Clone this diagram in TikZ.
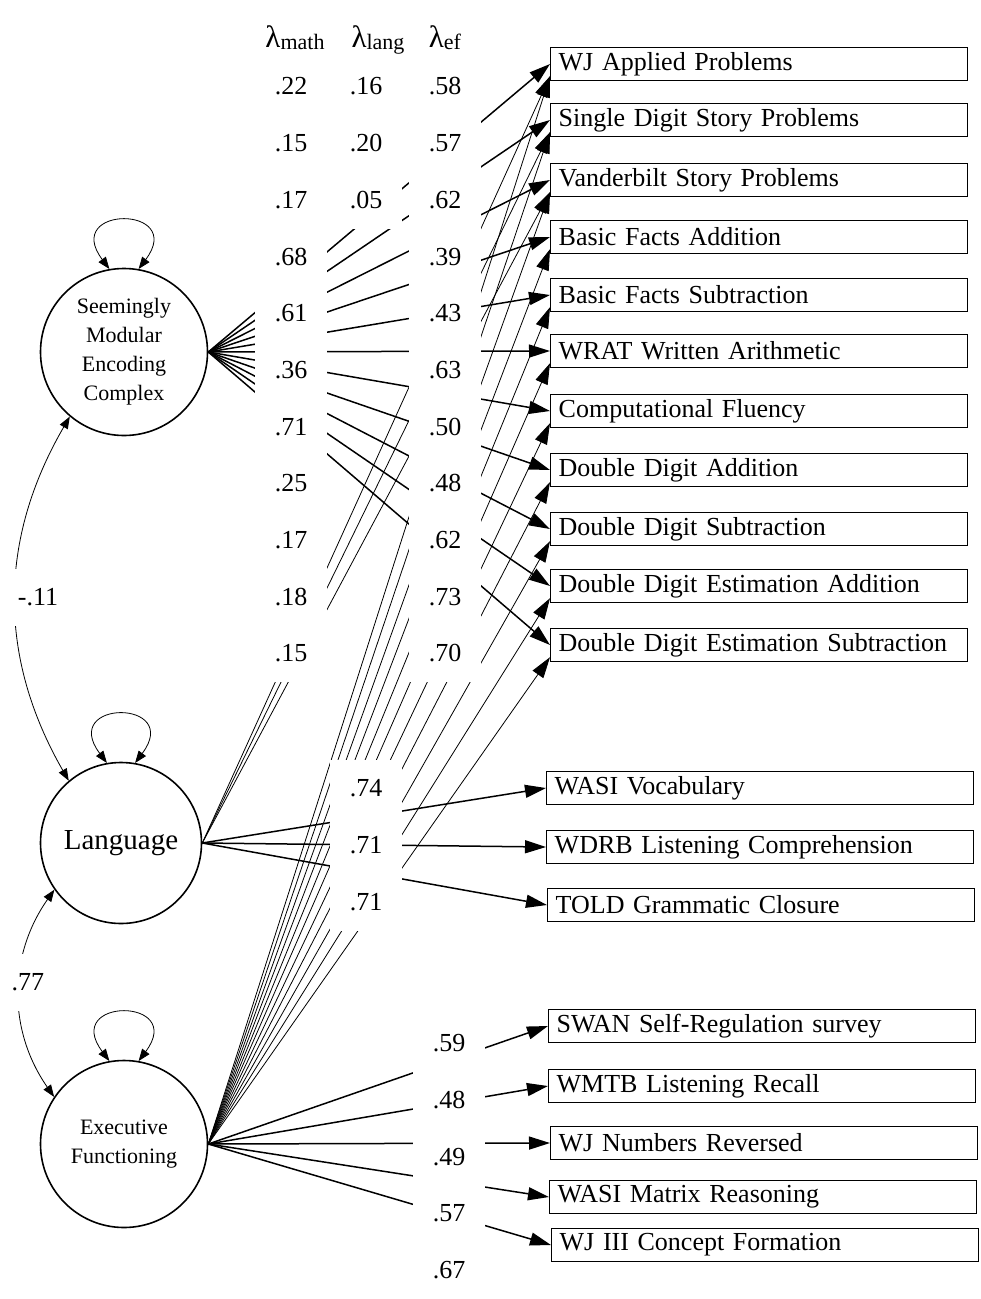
\documentclass[tikz,border=0pt]{standalone}
\usepackage{fontspec}
\setmainfont{Liberation Serif}
\usetikzlibrary{arrows.meta}
\newcommand{\lamsub}[1]{{\fontsize{31}{32}\selectfont λ}\raisebox{-2pt}{\fontsize{22}{24}\selectfont #1}}

\begin{document}
\begin{tikzpicture}[x=1pt, y=-1pt]
\useasboundingbox (0,0) rectangle (981,1299);

\tikzset{LatentStyle/.style = {
 shape = circle,
 draw,
 line width = 1.6pt,
 inner sep = 0pt,
 align = center,
 font = \fontsize{22}{29}\selectfont,
 minimum size = 167pt} }

\node[LatentStyle] (SMEC) at (124, 352) {Seemingly\\Modular\\Encoding\\Complex};
\node[LatentStyle, minimum size = 161pt, font = \fontsize{29}{34}\selectfont] (LANG) at (121, 843) {Language};
\node[LatentStyle] (EXEC) at (124, 1144) {Executive\\Functioning};


\tikzset{BoxStyle/.style = {
 draw,
 line width = 1.4pt,
 anchor = west,
 align = left,
 minimum height = 33pt,
 inner xsep = 8pt,
 inner ysep = 0pt,
 text width = 401pt,
 font = \fontsize{26}{30}\selectfont} }
\tikzset{WideBoxStyle/.style = {BoxStyle, text width = 411pt} }

\node[BoxStyle] (M1) at (550, 64) {WJ Applied Problems};
\node[BoxStyle] (M2) at (550, 120) {Single Digit Story Problems};
\node[BoxStyle] (M3) at (550, 180) {Vanderbilt Story Problems};
\node[BoxStyle] (M4) at (550, 237) {Basic Facts Addition};
\node[BoxStyle] (M5) at (550, 295) {Basic Facts Subtraction};
\node[BoxStyle] (M6) at (550, 351) {WRAT Written Arithmetic};
\node[BoxStyle] (M7) at (550, 411) {Computational Fluency};
\node[BoxStyle] (M8) at (550, 470) {Double Digit Addition};
\node[BoxStyle] (M9) at (550, 529) {Double Digit Subtraction};
\node[BoxStyle] (M10) at (550, 586) {Double Digit Estimation Addition};
\node[BoxStyle] (M11) at (550, 645) {Double Digit Estimation Subtraction};
\node[WideBoxStyle] (L1) at (546, 788) {WASI Vocabulary};
\node[WideBoxStyle] (L2) at (546, 847) {WDRB Listening Comprehension};
\node[WideBoxStyle] (L3) at (547, 905) {TOLD Grammatic Closure};
\node[WideBoxStyle] (E1) at (548, 1026) {SWAN Self-Regulation survey};
\node[WideBoxStyle] (E2) at (548, 1086) {WMTB Listening Recall};
\node[WideBoxStyle] (E3) at (550, 1143) {WJ Numbers Reversed};
\node[WideBoxStyle] (E4) at (549, 1197) {WASI Matrix Reasoning};
\node[WideBoxStyle] (E5) at (551, 1245) {WJ III Concept Formation};


\tikzset{EdgeStyle/.style = {line width = 1.5pt, -{Triangle[length=21pt, width=13pt]}} }
\tikzset{CrossStyle/.style = {line width = 0.8pt, -{Triangle[length=21pt, width=13pt]}} }

\draw[EdgeStyle] (SMEC.east) -- (M1.west);
\draw[EdgeStyle] (SMEC.east) -- (M2.west);
\draw[EdgeStyle] (SMEC.east) -- (M3.west);
\draw[EdgeStyle] (SMEC.east) -- (M4.west);
\draw[EdgeStyle] (SMEC.east) -- (M5.west);
\draw[EdgeStyle] (SMEC.east) -- (M6.west);
\draw[EdgeStyle] (SMEC.east) -- (M7.west);
\draw[EdgeStyle] (SMEC.east) -- (M8.west);
\draw[EdgeStyle] (SMEC.east) -- (M9.west);
\draw[EdgeStyle] (SMEC.east) -- (M10.west);
\draw[EdgeStyle] (SMEC.east) -- (M11.west);
\draw[CrossStyle] (LANG.east) -- ([yshift=5pt]M1.south west);
\draw[CrossStyle] (LANG.east) -- ([yshift=5pt]M2.south west);
\draw[CrossStyle] (LANG.east) -- ([yshift=5pt]M3.south west);
\draw[EdgeStyle] (LANG.east) -- (L1.west);
\draw[EdgeStyle] (LANG.east) -- (L2.west);
\draw[EdgeStyle] (LANG.east) -- (L3.west);
\draw[CrossStyle] (EXEC.east) -- ([yshift=5pt]M1.south west);
\draw[CrossStyle] (EXEC.east) -- ([yshift=5pt]M2.south west);
\draw[CrossStyle] (EXEC.east) -- ([yshift=5pt]M3.south west);
\draw[CrossStyle] (EXEC.east) -- ([yshift=5pt]M4.south west);
\draw[CrossStyle] (EXEC.east) -- ([yshift=5pt]M5.south west);
\draw[CrossStyle] (EXEC.east) -- ([yshift=5pt]M6.south west);
\draw[CrossStyle] (EXEC.east) -- ([yshift=5pt]M7.south west);
\draw[CrossStyle] (EXEC.east) -- ([yshift=5pt]M8.south west);
\draw[CrossStyle] (EXEC.east) -- ([yshift=5pt]M9.south west);
\draw[CrossStyle] (EXEC.east) -- ([yshift=5pt]M10.south west);
\draw[CrossStyle] (EXEC.east) -- ([yshift=5pt]M11.south west);
\draw[EdgeStyle] (EXEC.east) -- (E1.west);
\draw[EdgeStyle] (EXEC.east) -- (E2.west);
\draw[EdgeStyle] (EXEC.east) -- (E3.west);
\draw[EdgeStyle] (EXEC.east) -- (E4.west);
\draw[EdgeStyle] (EXEC.east) -- (E5.west);


\tikzset{LoopStyle/.style = {line width = 0.8pt, {Triangle[length=12pt, width=9pt]}-{Triangle[length=12pt, width=9pt]}} }

\draw[LoopStyle] (SMEC.100) .. controls +(-48,-64) and +(48,-64) .. (SMEC.80);
\draw[LoopStyle] (LANG.100) .. controls +(-48,-64) and +(48,-64) .. (LANG.80);
\draw[LoopStyle] (EXEC.100) .. controls +(-48,-64) and +(48,-64) .. (EXEC.80);
\draw[LoopStyle] (SMEC.230) to[bend right=30] (LANG.130);
\draw[LoopStyle] (LANG.215) to[bend right=35] (EXEC.146);


\tikzset{LabelStyle/.style = {
 fill = white,
 minimum width = 72pt,
 minimum height = 57pt,
 inner sep = 0pt,
 font = \fontsize{26}{30}\selectfont} }
\tikzset{CorrLabelStyle/.style = {LabelStyle, minimum width = 0pt, inner xsep = 6pt} }

\node[CorrLabelStyle] (R1) at (38, 597) {-.11};
\node[CorrLabelStyle] (R2) at (28, 982) {.77};

\node[anchor=base] (HM) at (295, 47) {\lamsub{math}};
\node[anchor=base] (HL) at (378, 47) {\lamsub{lang}};
\node[anchor=base] (HE) at (445, 47) {\lamsub{ef}};

\node[LabelStyle] (LM1) at (291, 86) {.22};
\node[LabelStyle] (LM2) at (291, 143) {.15};
\node[LabelStyle] (LM3) at (291, 200) {.17};
\node[LabelStyle] (LM4) at (291, 257) {.68};
\node[LabelStyle] (LM5) at (291, 313) {.61};
\node[LabelStyle] (LM6) at (291, 370) {.36};
\node[LabelStyle] (LM7) at (291, 427) {.71};
\node[LabelStyle] (LM8) at (291, 483) {.25};
\node[LabelStyle] (LM9) at (291, 540) {.17};
\node[LabelStyle] (LM10) at (291, 597) {.18};
\node[LabelStyle] (LM11) at (291, 653) {.15};

\node[LabelStyle] (LL1) at (366, 86) {.16};
\node[LabelStyle] (LL2) at (366, 143) {.20};
\node[LabelStyle] (LL3) at (366, 200) {.05};
\node[LabelStyle] (LL4) at (366, 788) {.74};
\node[LabelStyle] (LL5) at (366, 845) {.71};
\node[LabelStyle] (LL6) at (366, 902) {.71};

\node[LabelStyle] (LE1) at (445, 86) {.58};
\node[LabelStyle] (LE2) at (445, 143) {.57};
\node[LabelStyle] (LE3) at (445, 200) {.62};
\node[LabelStyle] (LE4) at (445, 257) {.39};
\node[LabelStyle] (LE5) at (445, 313) {.43};
\node[LabelStyle] (LE6) at (445, 370) {.63};
\node[LabelStyle] (LE7) at (445, 427) {.50};
\node[LabelStyle] (LE8) at (445, 483) {.48};
\node[LabelStyle] (LE9) at (445, 540) {.62};
\node[LabelStyle] (LE10) at (445, 597) {.73};
\node[LabelStyle] (LE11) at (445, 653) {.70};
\node[LabelStyle] (LE12) at (449, 1043) {.59};
\node[LabelStyle] (LE13) at (449, 1100) {.48};
\node[LabelStyle] (LE14) at (449, 1157) {.49};
\node[LabelStyle] (LE15) at (449, 1213) {.57};
\node[LabelStyle] (LE16) at (449, 1270) {.67};

\end{tikzpicture}
\end{document}
